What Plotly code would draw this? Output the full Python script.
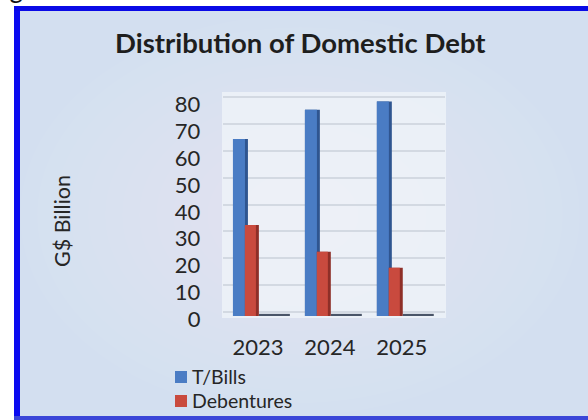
import plotly.graph_objects as go

# ---- data (G$ billion) ----
years = ["2023", "2024", "2025"]
t_bills = [66, 77, 80]
debentures = [34, 24, 18]
other = [0.8, 0.8, 0.8]

W, H = 588, 420


def px(x):
    return x / W


def py(y):
    return 1 - y / H


# colours
blue_front, blue_side = "#4a7cc4", "#2f5590"
red_front, red_side = "#c94a3e", "#8e2f28"
flat_col = "#4a5568"
text_col = "#262626"

fig = go.Figure()

# darker side faces first, lighter front faces on top
fig.add_trace(go.Bar(x=years, y=t_bills, offset=-0.347, width=0.208,
                     marker=dict(color=blue_side, line=dict(width=0)),
                     showlegend=False, hoverinfo="skip"))
fig.add_trace(go.Bar(x=years, y=t_bills, offset=-0.347, width=0.167, name="T/Bills",
                     marker=dict(color=blue_front, line=dict(width=0)), showlegend=False))
fig.add_trace(go.Bar(x=years, y=debentures, offset=-0.181, width=0.194,
                     marker=dict(color=red_side, line=dict(width=0)),
                     showlegend=False, hoverinfo="skip"))
fig.add_trace(go.Bar(x=years, y=debentures, offset=-0.181, width=0.153, name="Debentures",
                     marker=dict(color=red_front, line=dict(width=0)), showlegend=False))
fig.add_trace(go.Bar(x=years, y=other, offset=0.014, width=0.43, name="Other",
                     marker=dict(color=flat_col, line=dict(width=0)),
                     showlegend=False))
# carrier for the back-wall grid axis
fig.add_trace(go.Scatter(x=years, y=[None, None, None], yaxis="y2",
                         showlegend=False, hoverinfo="skip"))
# caption fragment above the frame, clipped to the top strip
fig.add_trace(go.Scatter(x=[0.27], y=[2.4], mode="text", text=["g"], xaxis="x3", yaxis="y3",
                         textposition="middle center", cliponaxis=True,
                         textfont=dict(family="Lato", size=26, color="#111111"),
                         showlegend=False, hoverinfo="skip"))

shapes = [
    # chart frame background
    dict(type="rect", xref="paper", yref="paper", x0=px(14), x1=px(588), y0=py(420), y1=py(6),
         fillcolor="#d3dff0", line=dict(width=0), layer="below"),
]
# soft radial lightening toward the middle of the frame
for i in range(14):
    rx = 280 - i * 17
    ry = 200 - i * 12
    cx, cy = 300, 215
    shapes.append(dict(type="circle", xref="paper", yref="paper",
                       x0=px(cx - rx), x1=px(cx + rx), y0=py(cy + ry), y1=py(cy - ry),
                       fillcolor="white", opacity=0.03, line=dict(width=0), layer="below"))
shapes += [
    # back wall
    dict(type="rect", xref="paper", yref="paper", x0=px(222), x1=px(446), y0=py(318), y1=py(92),
         fillcolor="#f0f4fa", opacity=0.75, line=dict(width=0), layer="below"),
    # frame edges
    dict(type="rect", xref="paper", yref="paper", x0=px(14), x1=px(20), y0=py(420), y1=py(6),
         fillcolor="#0a0af0", line=dict(width=0), layer="below"),
    dict(type="rect", xref="paper", yref="paper", x0=px(14), x1=px(588), y0=py(11), y1=py(6),
         fillcolor="#0a0ae6", line=dict(width=0), layer="below"),
    dict(type="rect", xref="paper", yref="paper", x0=px(14), x1=px(588), y0=py(420), y1=py(416),
         fillcolor="#3a46d8", line=dict(width=0), layer="below"),
    # legend keys
    dict(type="rect", xref="paper", yref="paper", x0=px(175), x1=px(187), y0=py(383), y1=py(371),
         fillcolor=blue_front, line=dict(width=0)),
    dict(type="rect", xref="paper", yref="paper", x0=px(175), x1=px(187), y0=py(407), y1=py(395),
         fillcolor=red_front, line=dict(width=0)),
]

fig.update_layout(
    width=W, height=H,
    margin=dict(l=0, r=0, t=0, b=0, pad=0, autoexpand=False),
    paper_bgcolor="white",
    plot_bgcolor="rgba(0,0,0,0)",
    barmode="overlay",
    showlegend=False,
    font=dict(family="Lato", color=text_col),
    shapes=shapes,
    xaxis=dict(domain=[px(223.4), px(445)], range=[-0.48, 2.6], type="category",
               automargin=False, showgrid=False, showline=False, zeroline=False, ticks="",
               tickfont=dict(size=22, color=text_col), ticklabelstandoff=16),
    yaxis=dict(domain=[py(316), py(90)], range=[0, 84.33], automargin=False, showgrid=False,
               zeroline=False, showline=False, ticks="", tick0=0, dtick=10,
               tickfont=dict(size=22, color=text_col), ticklabelstandoff=22,
               ticklabelshift=3),
    yaxis2=dict(overlaying="y", range=[-1.6, 82.73], automargin=False, showgrid=True,
                gridcolor="#d3d9e2", gridwidth=1.5, zeroline=False, showticklabels=False,
                ticks="", tick0=0, dtick=10, side="left"),
    xaxis3=dict(domain=[0, px(60)], range=[0, 1], visible=False, anchor="y3", automargin=False),
    yaxis3=dict(domain=[py(6), 1], range=[0, 1], visible=False, anchor="x3", automargin=False),
    annotations=[
        dict(text="<b>Distribution of Domestic Debt</b>", xref="paper", yref="paper",
             x=px(300), y=py(43), xanchor="center", yanchor="middle", showarrow=False,
             font=dict(size=27.5, color="#1e1e1e")),
        dict(text="G$ Billion", xref="paper", yref="paper", x=px(62), y=py(221),
             xanchor="center", yanchor="middle", textangle=-90, showarrow=False,
             font=dict(size=21.5, color=text_col)),
        dict(text="T/Bills", xref="paper", yref="paper", x=px(190), y=py(376),
             xanchor="left", yanchor="middle", showarrow=False,
             font=dict(size=19.5, color=text_col)),
        dict(text="Debentures", xref="paper", yref="paper", x=px(190), y=py(400),
             xanchor="left", yanchor="middle", showarrow=False,
             font=dict(size=19.5, color=text_col)),
    ],
)

fig.write_html("out.html")
